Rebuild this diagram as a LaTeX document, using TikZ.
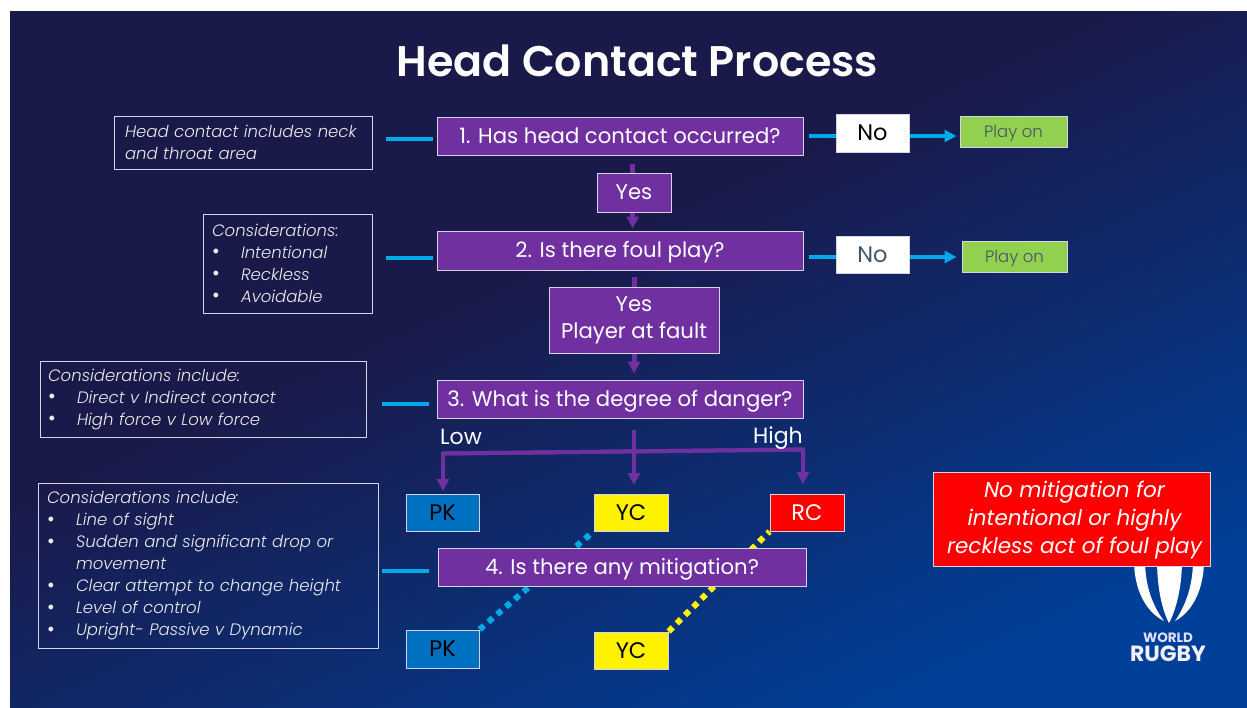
\documentclass[tikz,border=0pt]{standalone}
\usepackage{fontspec}
\setmainfont{Poppins}
\newfontfamily\lightf{Poppins Light}
\newfontfamily\titlef{Poppins SemiBold}
\usetikzlibrary{arrows.meta}
\definecolor{bgdark}{HTML}{1A1A4A}
\definecolor{bgblue}{HTML}{003F98}
\definecolor{purp}{HTML}{7030A0}
\definecolor{cyanl}{HTML}{00A9E8}
\definecolor{edgec}{HTML}{D4D4E4}
\definecolor{slate}{HTML}{44546A}
\definecolor{pkblue}{HTML}{0070C0}
\definecolor{greenb}{HTML}{92D050}
\pgfdeclareverticalshading{bgsh}{100bp}{color(0bp)=(bgblue); color(34.6bp)=(bgblue); color(54.25bp)=(bgdark); color(100bp)=(bgdark)}
\newcommand\bx[7]{\node[#1,minimum width={(#5-#3)*1pt},minimum height={(#6-#4)*1pt}] (#2) at ({(#3+#5)/2},{(#4+#6)/2}) {#7};}
\newcommand\bul[1]{\makebox[29pt][l]{\raisebox{-0.5pt}{\fontsize{21}{22}\selectfont\upshape •}}#1}
\tikzset{
  x=1pt,y=-1pt,
  box/.style={draw=edgec,line width=1pt,inner sep=0pt,align=center},
  qbox/.style={box,fill=purp,text=white,font=\fontsize{21.2}{27}\selectfont},
  qline/.style={qbox,text height=19pt,text depth=4.6pt},
  note/.style={box,draw=edgec,text=white!92!black,align=left,font=\lightf\fontsize{16.5}{22}\selectfont\itshape},
  tagbox/.style={box,font=\fontsize{22.5}{26}\selectfont},
  playbox/.style={box,fill=greenb,text=slate,text height=16pt,text depth=4pt,font=\lightf\fontsize{16.5}{20}\selectfont},
  link/.style={cyanl,line width=4.5pt},
  linkhead/.style={cyanl,line width=3.5pt,-{Triangle[length=12pt,width=12pt]}},
  flow/.style={purp,line width=4pt,-{Triangle[length=12pt,width=12pt]}},
  dotline/.style={line width=6pt,dash pattern=on 6pt off 5.6pt},
  lab/.style={text=white,inner sep=0pt,font=\fontsize{22}{24}\selectfont}
}
\begin{document}
\begin{tikzpicture}
\useasboundingbox (0,0) rectangle (1247,707);
\fill[white] (0,0) rectangle (1247,707);
\begin{scope}
\clip (10,11) rectangle (1247,707);
\shade[shading=bgsh,shading angle=24] (-72,-341) rectangle (1328,1059);
\end{scope}
\node[text=white,inner sep=0pt,font=\titlef\fontsize{42.8}{48}\selectfont] (title) at (637.5,61) {Head Contact Process};

% logo
\fill[white] (1134,560) .. controls (1134,590) and (1146,612) .. (1164,621) .. controls (1152,605) and (1145,585) .. (1145,560) -- cycle;
\fill[white] (1204,560) .. controls (1204,590) and (1192,612) .. (1175,621) .. controls (1186,605) and (1193,585) .. (1193,560) -- cycle;
\fill[white] (1157,560) .. controls (1157,590) and (1163,612) .. (1169,623) .. controls (1175,612) and (1182,590) .. (1182,560) -- cycle;
\node[text=white!88!blue,inner sep=0pt,font=\fontsize{13.5}{14}\selectfont\bfseries] (lw) at (1168,637.5) {WORLD};
\node[text=white!95!blue,inner sep=0pt,font=\fontsize{22}{22}\selectfont\bfseries] (lr) at (1168,654) {RUGBY};

% boxes behind the dotted lines come later
\bx{tagbox,fill=pkblue,text=black}{pka}{406}{494}{479}{531}{PK}
\bx{tagbox,fill=yellow,text=black}{yca}{594}{494}{668}{531}{YC}
\bx{tagbox,fill=red,text=white}{rc}{770}{494}{844}{531}{RC}
\bx{tagbox,fill=pkblue,text=black}{pkb}{406}{630}{479}{668}{PK}
\bx{tagbox,fill=yellow,text=black}{ycb}{594}{632}{668}{669}{YC}
\draw[dotline,cyanl] (pkb.north east) -- (yca.south west);
\draw[dotline,yellow] (ycb.north east) -- (rc.south west);

\bx{qline}{qa}{437}{117}{803}{155}{1. Has head contact occurred?}
\bx{qbox}{yesa}{597}{173}{671}{212}{Yes}
\bx{qline}{qb}{437}{231}{803}{270}{2. Is there foul play?}
\bx{qbox}{yesb}{549}{287}{719}{353}{Yes\\Player at fault}
\bx{qline}{qc}{437}{380}{803}{418}{3. What is the degree of danger?}
\bx{qline}{qd}{438}{548}{806}{586}{4. Is there any mitigation?}

\bx{tagbox,fill=white,text=black}{noa}{836}{114}{909}{152}{No}
\bx{tagbox,fill=white,text=slate}{nob}{836}{236}{909}{273}{No}
\bx{playbox}{playa}{960}{116}{1067}{147}{Play on}
\bx{playbox}{playb}{962}{241}{1067}{272}{Play on}

\bx{note,text width=236pt}{na}{114}{116}{372}{169}{Head contact includes neck\\and throat area}
\bx{note,text width=151pt}{nb}{203}{214}{372}{313}{Considerations:\\\bul{Intentional}\\\bul{Reckless}\\\bul{Avoidable}}
\bx{note,text width=310pt}{nc}{40}{361}{366}{437.5}{Considerations include:\\\bul{Direct v Indirect contact}\\\bul{High force v Low force}}
\bx{note,text width=322pt}{nd}{38}{483}{378}{648}{Considerations include:\\\bul{Line of sight}\\\bul{Sudden and significant drop or}\\\makebox[29pt]{}movement\\\bul{Clear attempt to change height}\\\bul{Level of control}\\\bul{Upright- Passive v Dynamic}}

\bx{box,fill=red,text=white,font=\fontsize{21.5}{28}\selectfont\itshape}{nomit}{933}{472}{1210}{566}{\rule{0pt}{19pt}\hspace*{6pt}No mitigation for\\\hspace*{6pt}intentional or highly\\\hspace*{6pt}reckless act of foul play}

% connectors
\coordinate (la) at (386,139);
\coordinate (lb) at (386,258);
\coordinate (lc) at (382,404);
\coordinate (ld) at (382,571);
\draw[link,shorten >=4pt] (la) -- (qa.west |- la);
\draw[link,shorten >=4pt] (lb) -- (qb.west |- lb);
\draw[link,shorten >=8pt] (lc) -- (qc.west |- lc);
\draw[link,shorten >=9pt] (ld) -- (qd.west |- ld);
\coordinate (ra) at (836,136);
\coordinate (rb) at (836,257);
\draw[cyanl,line width=3.5pt,shorten <=5pt] (qa.east |- ra) -- (ra);
\draw[linkhead,shorten >=3pt] (noa.east |- ra) -- (playa.west |- ra);
\draw[cyanl,line width=3.5pt,shorten <=5pt] (qb.east |- rb) -- (rb);
\draw[linkhead,shorten >=5pt] (nob.east |- rb) -- (playb.west |- rb);

\coordinate (fa) at (632.7,164);
\draw[purp,line width=5pt] (fa) -- (yesa.north -| fa);
\draw[flow,line width=5pt,shorten >=2pt] (yesa.south -| fa) -- (qb.north -| fa);
\coordinate (fb) at (634,277);
\draw[purp,line width=5pt] (fb) -- (yesb.north -| fb);
\draw[flow,line width=5pt,shorten >=6pt] (yesb.south -| fb) -- (qc.north -| fb);

\coordinate (fc) at (634,430);
\coordinate (fl) at (443,453.5);
\coordinate (fr) at (803,449.5);
\coordinate (tl) at (443,491);
\coordinate (tm) at (634,485);
\coordinate (tr) at (803,484);
\draw[flow] (fc) -- (tm);
\draw[flow] (fr) -- (fl) -- (tl);
\draw[flow] (fl) -- (fr) -- (tr);

\node[lab] (low) at (461,437) {Low};
\node[lab] (high) at (778,438) {High};
\end{tikzpicture}
\end{document}
